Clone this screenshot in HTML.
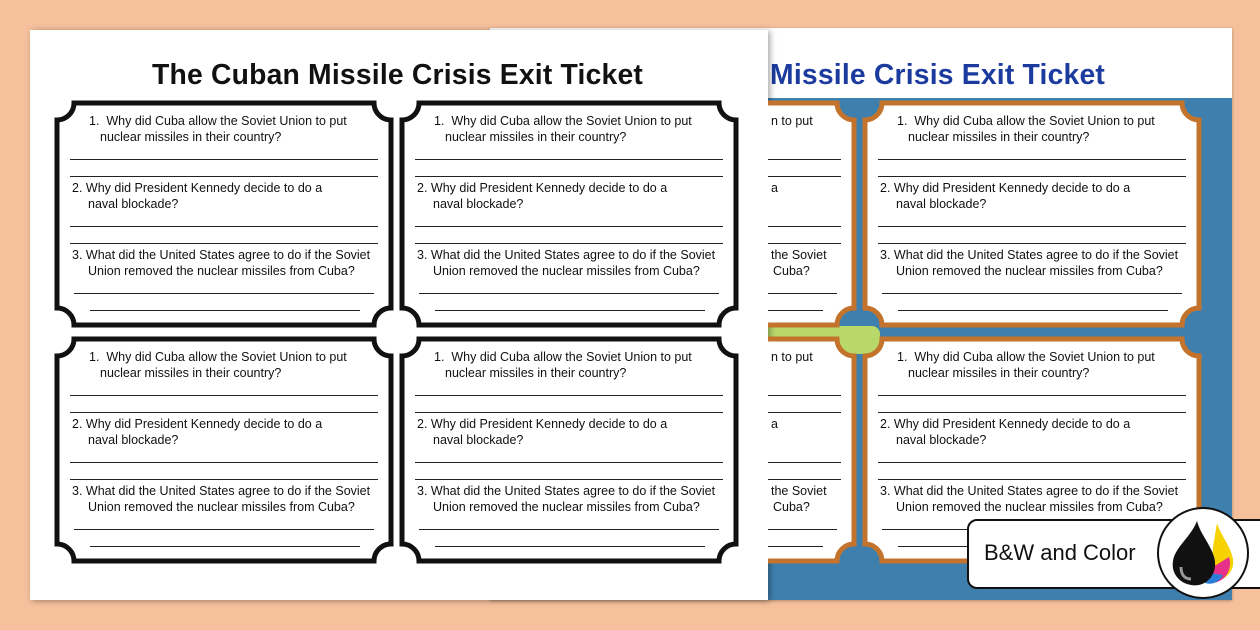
<!DOCTYPE html>
<html><head><meta charset="utf-8"><style>
body{margin:0;width:1260px;height:630px;background:#f6c09c;position:relative;overflow:hidden;font-family:"Liberation Sans",sans-serif}
.page{position:absolute;background:#fff}
.t{position:absolute;width:340px;height:228px}
.t svg{position:absolute;left:0;top:0}
.q{position:absolute;font-size:12.5px;color:#111;white-space:nowrap;line-height:17px}
.r{position:absolute;height:1px;background:#222}
h1{position:absolute;margin:0;font-size:28.3px;font-weight:bold;white-space:nowrap;letter-spacing:0.2px}
</style></head><body>

<div class="page" style="left:490px;top:28px;width:742px;height:572px;background:#3f7fae;box-shadow:0 1px 3px rgba(0,0,0,.3)">
  <div style="position:absolute;left:0;top:0;width:742px;height:70px;background:#fff"></div>
  <div style="position:absolute;left:270px;top:298px;width:120px;height:28px;background:#b8d86a;border-radius:8px"></div>
</div>
<h1 style="left:614px;top:58px;color:#1b3c9e">The Cuban Missile Crisis Exit Ticket</h1>

<div class="page" style="left:30px;top:30px;width:738px;height:570px;box-shadow:2px 1px 6px rgba(0,0,0,.35)"></div>
<h1 style="left:152px;top:58px;color:#111">The Cuban Missile Crisis Exit Ticket</h1>

<div class="t" style="left:54px;top:100px"><svg width="340" height="228"><path d="M20,3H320A17,17 0 0 0 337,20V208A17,17 0 0 0 320,225H20A17,17 0 0 0 3,208V20A17,17 0 0 0 20,3Z" fill="#fff" stroke="#111" stroke-width="5"/></svg>
<div class="q" style="left:35px;top:13px">1.&nbsp;&nbsp;Why did Cuba allow the Soviet Union to put</div><div class="q" style="left:46px;top:29px">nuclear missiles in their country?</div>
<div class="r" style="left:16px;width:308px;top:59px"></div><div class="r" style="left:16px;width:308px;top:76px"></div>
<div class="q" style="left:18px;top:80px">2. Why did President Kennedy decide to do a</div><div class="q" style="left:34px;top:96px">naval blockade?</div>
<div class="r" style="left:16px;width:308px;top:126px"></div><div class="r" style="left:16px;width:308px;top:143px"></div>
<div class="q" style="left:18px;top:147px">3. What did the United States agree to do if the Soviet</div><div class="q" style="left:34px;top:163px">Union removed the nuclear missiles from Cuba?</div>
<div class="r" style="left:20px;width:300px;top:193px"></div><div class="r" style="left:36px;width:270px;top:210px"></div></div>

<div class="t" style="left:399px;top:100px"><svg width="340" height="228"><path d="M20,3H320A17,17 0 0 0 337,20V208A17,17 0 0 0 320,225H20A17,17 0 0 0 3,208V20A17,17 0 0 0 20,3Z" fill="#fff" stroke="#111" stroke-width="5"/></svg>
<div class="q" style="left:35px;top:13px">1.&nbsp;&nbsp;Why did Cuba allow the Soviet Union to put</div><div class="q" style="left:46px;top:29px">nuclear missiles in their country?</div>
<div class="r" style="left:16px;width:308px;top:59px"></div><div class="r" style="left:16px;width:308px;top:76px"></div>
<div class="q" style="left:18px;top:80px">2. Why did President Kennedy decide to do a</div><div class="q" style="left:34px;top:96px">naval blockade?</div>
<div class="r" style="left:16px;width:308px;top:126px"></div><div class="r" style="left:16px;width:308px;top:143px"></div>
<div class="q" style="left:18px;top:147px">3. What did the United States agree to do if the Soviet</div><div class="q" style="left:34px;top:163px">Union removed the nuclear missiles from Cuba?</div>
<div class="r" style="left:20px;width:300px;top:193px"></div><div class="r" style="left:36px;width:270px;top:210px"></div></div>

<div class="t" style="left:54px;top:336px"><svg width="340" height="228"><path d="M20,3H320A17,17 0 0 0 337,20V208A17,17 0 0 0 320,225H20A17,17 0 0 0 3,208V20A17,17 0 0 0 20,3Z" fill="#fff" stroke="#111" stroke-width="5"/></svg>
<div class="q" style="left:35px;top:13px">1.&nbsp;&nbsp;Why did Cuba allow the Soviet Union to put</div><div class="q" style="left:46px;top:29px">nuclear missiles in their country?</div>
<div class="r" style="left:16px;width:308px;top:59px"></div><div class="r" style="left:16px;width:308px;top:76px"></div>
<div class="q" style="left:18px;top:80px">2. Why did President Kennedy decide to do a</div><div class="q" style="left:34px;top:96px">naval blockade?</div>
<div class="r" style="left:16px;width:308px;top:126px"></div><div class="r" style="left:16px;width:308px;top:143px"></div>
<div class="q" style="left:18px;top:147px">3. What did the United States agree to do if the Soviet</div><div class="q" style="left:34px;top:163px">Union removed the nuclear missiles from Cuba?</div>
<div class="r" style="left:20px;width:300px;top:193px"></div><div class="r" style="left:36px;width:270px;top:210px"></div></div>

<div class="t" style="left:399px;top:336px"><svg width="340" height="228"><path d="M20,3H320A17,17 0 0 0 337,20V208A17,17 0 0 0 320,225H20A17,17 0 0 0 3,208V20A17,17 0 0 0 20,3Z" fill="#fff" stroke="#111" stroke-width="5"/></svg>
<div class="q" style="left:35px;top:13px">1.&nbsp;&nbsp;Why did Cuba allow the Soviet Union to put</div><div class="q" style="left:46px;top:29px">nuclear missiles in their country?</div>
<div class="r" style="left:16px;width:308px;top:59px"></div><div class="r" style="left:16px;width:308px;top:76px"></div>
<div class="q" style="left:18px;top:80px">2. Why did President Kennedy decide to do a</div><div class="q" style="left:34px;top:96px">naval blockade?</div>
<div class="r" style="left:16px;width:308px;top:126px"></div><div class="r" style="left:16px;width:308px;top:143px"></div>
<div class="q" style="left:18px;top:147px">3. What did the United States agree to do if the Soviet</div><div class="q" style="left:34px;top:163px">Union removed the nuclear missiles from Cuba?</div>
<div class="r" style="left:20px;width:300px;top:193px"></div><div class="r" style="left:36px;width:270px;top:210px"></div></div>

<div style="position:absolute;left:768px;top:90px;width:464px;height:490px;overflow:hidden">
<div class="t" style="left:94px;top:10px"><svg width="340" height="228"><path d="M20,3H320A17,17 0 0 0 337,20V208A17,17 0 0 0 320,225H20A17,17 0 0 0 3,208V20A17,17 0 0 0 20,3Z" fill="#fff" stroke="#c4732c" stroke-width="5"/></svg>
<div class="q" style="left:35px;top:13px">1.&nbsp;&nbsp;Why did Cuba allow the Soviet Union to put</div><div class="q" style="left:46px;top:29px">nuclear missiles in their country?</div>
<div class="r" style="left:16px;width:308px;top:59px"></div><div class="r" style="left:16px;width:308px;top:76px"></div>
<div class="q" style="left:18px;top:80px">2. Why did President Kennedy decide to do a</div><div class="q" style="left:34px;top:96px">naval blockade?</div>
<div class="r" style="left:16px;width:308px;top:126px"></div><div class="r" style="left:16px;width:308px;top:143px"></div>
<div class="q" style="left:18px;top:147px">3. What did the United States agree to do if the Soviet</div><div class="q" style="left:34px;top:163px">Union removed the nuclear missiles from Cuba?</div>
<div class="r" style="left:20px;width:300px;top:193px"></div><div class="r" style="left:36px;width:270px;top:210px"></div></div>
<div class="t" style="left:94px;top:246px"><svg width="340" height="228"><path d="M20,3H320A17,17 0 0 0 337,20V208A17,17 0 0 0 320,225H20A17,17 0 0 0 3,208V20A17,17 0 0 0 20,3Z" fill="#fff" stroke="#c4732c" stroke-width="5"/></svg>
<div class="q" style="left:35px;top:13px">1.&nbsp;&nbsp;Why did Cuba allow the Soviet Union to put</div><div class="q" style="left:46px;top:29px">nuclear missiles in their country?</div>
<div class="r" style="left:16px;width:308px;top:59px"></div><div class="r" style="left:16px;width:308px;top:76px"></div>
<div class="q" style="left:18px;top:80px">2. Why did President Kennedy decide to do a</div><div class="q" style="left:34px;top:96px">naval blockade?</div>
<div class="r" style="left:16px;width:308px;top:126px"></div><div class="r" style="left:16px;width:308px;top:143px"></div>
<div class="q" style="left:18px;top:147px">3. What did the United States agree to do if the Soviet</div><div class="q" style="left:34px;top:163px">Union removed the nuclear missiles from Cuba?</div>
<div class="r" style="left:20px;width:300px;top:193px"></div><div class="r" style="left:36px;width:270px;top:210px"></div></div>
<div class="t" style="left:-251px;top:10px"><svg width="340" height="228"><path d="M20,3H320A17,17 0 0 0 337,20V208A17,17 0 0 0 320,225H20A17,17 0 0 0 3,208V20A17,17 0 0 0 20,3Z" fill="#fff" stroke="#c4732c" stroke-width="5"/></svg>
<div class="q" style="left:254px;top:13px">n to put</div><div class="q" style="left:254px;top:80px">a</div><div class="q" style="left:254px;top:147px">the Soviet</div><div class="q" style="left:256px;top:163px">Cuba?</div>
<div class="r" style="left:16px;width:308px;top:59px"></div><div class="r" style="left:16px;width:308px;top:76px"></div>
<div class="r" style="left:16px;width:308px;top:126px"></div><div class="r" style="left:16px;width:308px;top:143px"></div>
<div class="r" style="left:20px;width:300px;top:193px"></div><div class="r" style="left:36px;width:270px;top:210px"></div></div>
<div class="t" style="left:-251px;top:246px"><svg width="340" height="228"><path d="M20,3H320A17,17 0 0 0 337,20V208A17,17 0 0 0 320,225H20A17,17 0 0 0 3,208V20A17,17 0 0 0 20,3Z" fill="#fff" stroke="#c4732c" stroke-width="5"/></svg>
<div class="q" style="left:254px;top:13px">n to put</div><div class="q" style="left:254px;top:80px">a</div><div class="q" style="left:254px;top:147px">the Soviet</div><div class="q" style="left:256px;top:163px">Cuba?</div>
<div class="r" style="left:16px;width:308px;top:59px"></div><div class="r" style="left:16px;width:308px;top:76px"></div>
<div class="r" style="left:16px;width:308px;top:126px"></div><div class="r" style="left:16px;width:308px;top:143px"></div>
<div class="r" style="left:20px;width:300px;top:193px"></div><div class="r" style="left:36px;width:270px;top:210px"></div></div>
</div>

<div style="position:absolute;left:967px;top:519px;width:310px;height:66px;background:#fff;border:2px solid #111;border-radius:10px"></div>
<div style="position:absolute;left:984px;top:540px;font-size:22px;color:#111">B&amp;W and Color</div>
<div style="position:absolute;left:1157px;top:507px;width:88px;height:88px;background:#fff;border:2px solid #111;border-radius:50%"></div>
<svg style="position:absolute;left:1157px;top:507px" width="92" height="92">
<path d="M60,16C64,30 78,44 76,58C74,70 62,76 54,72L56,40Z" fill="#f6d200"/>
<path d="M72,50C76,62 68,76 54,76L56,60Z" fill="#e8308a"/>
<path d="M66,68C62,76 54,78 48,76L52,66Z" fill="#2b7ed6"/>
<path d="M40,14C44,30 60,44 58,60C56,74 44,80 34,78C22,76 14,66 16,54C18,40 34,30 40,14Z" fill="#111"/>
<path d="M24,60C24,68 28,72 34,72" stroke="#999" stroke-width="3" fill="none"/>
</svg>
</body></html>
